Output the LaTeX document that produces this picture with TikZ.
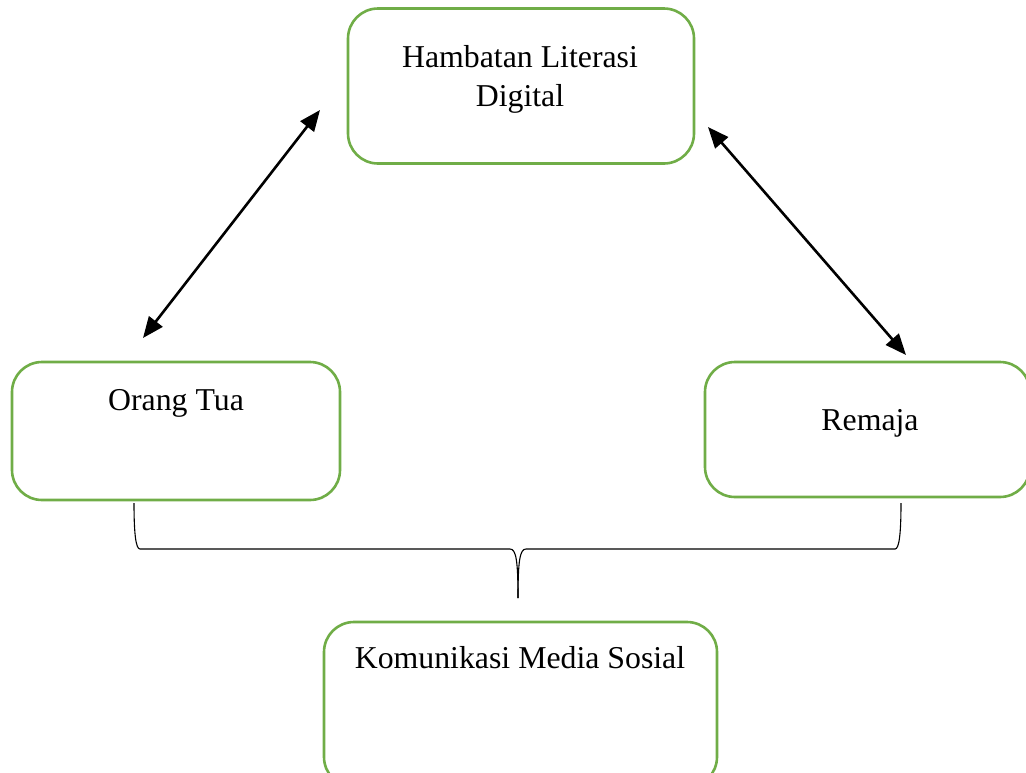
\documentclass[tikz,border=0pt]{standalone}
\usepackage{fontspec}
\setmainfont{Liberation Serif}
\usetikzlibrary{arrows.meta}
\definecolor{boxgreen}{HTML}{70AD47}
\begin{document}
\begin{tikzpicture}[x=1pt,y=-1pt,
  box/.style={draw=boxgreen,line width=2.6pt,rounded corners=30pt,inner sep=0pt},
  lbl/.style={font=\fontsize{31.8}{40}\selectfont,anchor=base,inner sep=0pt},
  dbl/.style={line width=2.6pt,{Triangle[length=21pt,width=17pt]}-{Triangle[length=21pt,width=17pt]}},
  brace/.style={line width=1.1pt,line join=round}]
\useasboundingbox (0,0) rectangle (1026,772);
% boxes
\node[box,minimum width=346pt,minimum height=155pt] (hd) at (521,86) {};
\node[box,minimum width=328pt,minimum height=138pt] (ot) at (176,431) {};
\node[box,minimum width=325pt,minimum height=135pt] (rm) at (867.5,429.5) {};
\node[box,minimum width=393pt,minimum height=165pt] (km) at (520.5,704.5) {};
% labels
\node[lbl] (hd1) at (520,67) {Hambatan Literasi};
\node[lbl] (hd2) at (520,106) {Digital};
\node[lbl] (otl) at (176,410) {Orang Tua};
\node[lbl] (rml) at (870,430) {Remaja};
\node[lbl] (kml) at (520,668) {Komunikasi Media Sosial};
% arrows
\coordinate (a1) at (143,338);
\coordinate (a2) at (320,110);
\coordinate (b1) at (708,127);
\coordinate (b2) at (906,355);
\draw[dbl] (a1) -- (a2);
\draw[dbl] (b1) -- (b2);
% brace
\coordinate (bl) at (134,503);
\coordinate (br) at (901,503);
\coordinate (bt) at (518,598);
\draw[brace] (bl) .. controls (134,535) and (136,549) .. (140,549)
  -- (510,549) .. controls (516,549) and (518,560) .. (bt);
\draw[brace] (br) .. controls (901,535) and (899,549) .. (895,549)
  -- (526,549) .. controls (520,549) and (518,560) .. (bt);
\end{tikzpicture}
\end{document}
